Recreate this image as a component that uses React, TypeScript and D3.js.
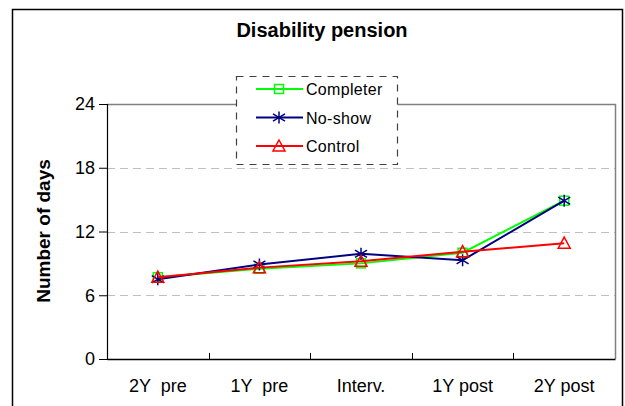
import React, { useEffect, useRef } from "react";
import * as d3 from "d3";

const categories = ["2Y  pre", "1Y  pre", "Interv.", "1Y post", "2Y post"];
const completer = [7.7, 8.5, 9.0, 10.0, 14.9];
const noShow = [7.5, 8.9, 9.9, 9.3, 14.9];
const control = [7.7, 8.6, 9.2, 10.1, 10.9];
const yTicks = [0, 6, 12, 18, 24];

const series = [
  { name: "Completer", values: completer, color: "#00ff00", marker: "square" },
  { name: "No-show", values: noShow, color: "#000080", marker: "star" },
  { name: "Control", values: control, color: "#ff0000", marker: "triangle" },
];

const W = 625;
const H = 406;

const App = () => {
  const ref = useRef<SVGSVGElement>(null);

  useEffect(() => {
    const svg = d3.select(ref.current);
    svg.selectAll("*").remove();
    const font = "'Liberation Sans', Arial, sans-serif";

    const margin = { top: 104, right: 10, bottom: 47, left: 107 };
    const width = W - margin.left - margin.right;
    const height = H - margin.top - margin.bottom;

    // outer frame
    svg
      .append("rect")
      .attr("x", 12.5)
      .attr("y", 9.5)
      .attr("width", 610)
      .attr("height", 410)
      .attr("fill", "white")
      .attr("stroke", "black")
      .attr("stroke-width", 1.5);

    svg
      .append("text")
      .attr("x", 322)
      .attr("y", 37)
      .attr("text-anchor", "middle")
      .attr("font-family", font)
      .attr("font-weight", "bold")
      .attr("font-size", 20)
      .text("Disability pension");

    const x = d3.scaleBand().domain(categories).range([0, width]);
    const y = d3.scaleLinear().domain([0, 24]).range([height, 0]);

    const g = svg
      .append("g")
      .attr("transform", `translate(${margin.left},${margin.top})`);

    // grid
    g.selectAll(".grid")
      .data(yTicks.filter((t) => t > 0 && t < 24))
      .enter()
      .append("line")
      .attr("x1", 0)
      .attr("x2", width)
      .attr("y1", (d) => Math.round(y(d)) + 0.5)
      .attr("y2", (d) => Math.round(y(d)) + 0.5)
      .attr("stroke", "#c0c0c0")
      .attr("stroke-dasharray", "8,5");

    // plot area border top / right
    g.append("path")
      .attr("d", `M0,${y(24) + 0.5}H${width + 0.5}V${height}`)
      .attr("fill", "none")
      .attr("stroke", "#808080")
      .attr("stroke-width", 1.5);

    const yAxis = g
      .append("g")
      .call(d3.axisLeft(y).tickValues(yTicks).tickSize(8).tickPadding(4));
    yAxis.select(".domain").attr("stroke", "black").attr("stroke-width", 1.2);
    yAxis
      .selectAll("text")
      .attr("font-family", font)
      .attr("font-size", 18)
      .attr("fill", "black");

    const xAxis = g
      .append("g")
      .attr("transform", `translate(0,${height})`)
      .call(d3.axisBottom(x).tickSize(0).tickPadding(20));
    xAxis.select(".domain").attr("stroke-width", 1.5);
    xAxis
      .selectAll("text")
      .attr("font-family", font)
      .attr("font-size", 18)
      .attr("fill", "black")
      .style("white-space", "pre");
    // band boundary ticks pointing up
    g.selectAll(".xtick")
      .data(categories.slice(1))
      .enter()
      .append("line")
      .attr("x1", (d) => Math.round(x(d)!) + 0.5)
      .attr("x2", (d) => Math.round(x(d)!) + 0.5)
      .attr("y1", height)
      .attr("y2", height - 6)
      .attr("stroke", "black");

    svg
      .append("text")
      .attr("transform", "translate(50,231) rotate(-90)")
      .attr("text-anchor", "middle")
      .attr("font-family", font)
      .attr("font-weight", "bold")
      .attr("font-size", 19)
      .text("Number of days");

    const cx = (i: number) => x(categories[i])! + x.bandwidth() / 2;
    const line = d3
      .line<number>()
      .x((_, i) => cx(i))
      .y((d) => y(d));

    const drawMarker = (sel: any, marker: string, color: string, px: number, py: number) => {
      if (marker === "square") {
        sel
          .append("rect")
          .attr("x", px - 4.5)
          .attr("y", py - 4.5)
          .attr("width", 9)
          .attr("height", 9)
          .attr("fill", "none")
          .attr("stroke", color)
          .attr("stroke-width", 1.5);
      } else if (marker === "triangle") {
        sel
          .append("path")
          .attr("d", `M${px},${py - 6}L${px + 6},${py + 5}L${px - 6},${py + 5}Z`)
          .attr("fill", "none")
          .attr("stroke", color)
          .attr("stroke-width", 1.5);
      } else {
        const r = 6;
        sel
          .append("path")
          .attr(
            "d",
            `M${px},${py - r}V${py + r}M${px - r},${py - r * 0.6}L${px + r},${py + r * 0.6}M${px - r},${py + r * 0.6}L${px + r},${py - r * 0.6}`
          )
          .attr("stroke", color)
          .attr("stroke-width", 1.5);
      }
    };

    series.forEach((s) => {
      g.append("path")
        .datum(s.values)
        .attr("d", line)
        .attr("fill", "none")
        .attr("stroke", s.color)
        .attr("stroke-width", 2);
      s.values.forEach((v, i) => drawMarker(g, s.marker, s.color, cx(i), y(v)));
    });

    // legend
    const lg = svg.append("g").attr("transform", "translate(236,76)");
    lg.append("rect")
      .attr("x", 0.5)
      .attr("y", 0.5)
      .attr("width", 161)
      .attr("height", 88)
      .attr("fill", "white")
      .attr("stroke", "#404040")
      .attr("stroke-width", 1.2)
      .attr("stroke-dasharray", "7,6");
    series.forEach((s, i) => {
      const ry = 13 + i * 28.5;
      lg.append("line")
        .attr("x1", 20)
        .attr("x2", 67)
        .attr("y1", ry)
        .attr("y2", ry)
        .attr("stroke", s.color)
        .attr("stroke-width", 2);
      drawMarker(lg, s.marker, s.color, 43, ry);
      lg.append("text")
        .attr("x", 70)
        .attr("y", ry + 6)
        .attr("font-family", font)
        .attr("font-size", 16)
        .attr("letter-spacing", 0.3)
        .text(s.name);
    });
  }, []);

  return (
    <svg
      ref={ref}
      width={W}
      height={H}
      style={{ position: "absolute", left: 0, top: 0, display: "block" }}
    />
  );
};

export default App;
